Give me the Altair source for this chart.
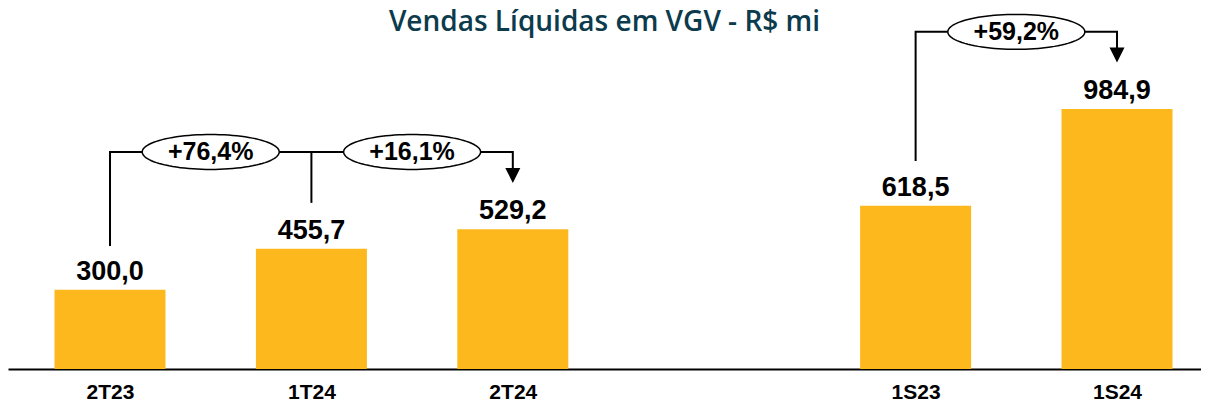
import altair as alt
import pandas as pd
import numpy as np

# ---- data ----
categories = ["2T23", "1T24", "2T24", "1S23", "1S24"]
slots = [0, 1, 2, 4, 5]
values = [300.0, 455.7, 529.2, 618.5, 984.9]
value_labels = ["300,0", "455,7", "529,2", "618,5", "984,9"]
axis_labels = ["2T23", "1T24", "2T24", "", "1S23", "1S24"]

growth_labels = ["+76,4%", "+16,1%", "+59,2%"]
growth_x = [0.5, 1.5, 4.5]
growth_y = [822, 822, 1277]

bracket_id = ["q", "q", "q", "q", "v", "v", "s", "s", "s", "s"]
bracket_x = [0, 0, 2, 2, 1, 1, 4, 4, 5, 5]
bracket_y = [470, 822, 822, 754, 822, 633, 792, 1277, 1277, 1216]
bracket_order = [0, 1, 2, 3, 0, 1, 0, 1, 2, 3]

arrow_x = [2, 5]
arrow_y = [733, 1189]

title_text = ["Vendas Líquidas em VGV - R$ mi"]

bars = pd.DataFrame({"cat": categories, "slot": slots, "value": values, "label": value_labels})
growth = pd.DataFrame({"x": growth_x, "y": growth_y, "label": growth_labels})
brackets = pd.DataFrame({"id": bracket_id, "x": bracket_x, "y": bracket_y, "o": bracket_order})
arrows = pd.DataFrame({"x": arrow_x, "y": arrow_y})
titles = pd.DataFrame({"t": title_text})

W, H = 1193, 339
x_scale = alt.Scale(domain=[-0.5065, 5.417], nice=False, zero=False, padding=0)
y_scale = alt.Scale(domain=[0, 1284], nice=False, zero=True, padding=0)

label_expr = "[" + ",".join("'" + s + "'" for s in axis_labels) + "][datum.value]"

X = alt.X("slot:Q", scale=x_scale, title=None,
          axis=alt.Axis(values=slots, labelExpr=label_expr, ticks=False, grid=False,
                        domainColor="#000000", domainWidth=2, labelPadding=12,
                        labelFont="Liberation Sans", labelFontWeight="bold",
                        labelFontSize=21, labelColor="#000000"))
Y = alt.Y("value:Q", scale=y_scale, axis=None)

bar_layer = alt.Chart(bars).mark_bar(size=111, color="#FDB81E").encode(x=X, y=Y)
val_text = alt.Chart(bars).mark_text(
    baseline="alphabetic", dy=-10, font="Liberation Sans", fontWeight="bold",
    fontSize=27, color="#000000"
).encode(x=alt.X("slot:Q", scale=x_scale), y=alt.Y("value:Q", scale=y_scale), text="label:N")

lines = alt.Chart(brackets).mark_line(color="#000000", strokeWidth=2, strokeCap="square").encode(
    x=alt.X("x:Q", scale=x_scale), y=alt.Y("y:Q", scale=y_scale), detail="id:N", order="o:Q")

arrow_layer = alt.Chart(arrows).mark_point(
    shape="M-1,-1L1,-1L0,1Z", filled=True, color="#000000", size=225, opacity=1
).encode(x=alt.X("x:Q", scale=x_scale), y=alt.Y("y:Q", scale=y_scale))

t = np.linspace(0, 2 * np.pi, 97)[:-1]
ell_path = "M" + "L".join(f"{np.cos(a):.4f},{0.255 * np.sin(a):.4f}" for a in t) + "Z"
ellipses = alt.Chart(growth).mark_point(
    shape=ell_path, filled=False, fill="#FFFFFF", fillOpacity=1, stroke="#000000",
    strokeWidth=1.5, size=137 * 137, opacity=1
).encode(x=alt.X("x:Q", scale=x_scale), y=alt.Y("y:Q", scale=y_scale))

g_text = alt.Chart(growth).mark_text(
    baseline="middle", font="Liberation Sans", fontWeight="bold", fontSize=25, color="#000000"
).encode(x=alt.X("x:Q", scale=x_scale), y=alt.Y("y:Q", scale=y_scale), text="label:N")

title_layer = alt.Chart(titles).mark_text(
    baseline="top", align="center", font="Open Sans", fontWeight=600, fontSize=28,
    color="#0B3B4C"
).encode(x=alt.value(W / 2), y=alt.value(-21), text="t:N")

chart = alt.layer(bar_layer, val_text, lines, arrow_layer, ellipses, g_text, title_layer).properties(
    width=W, height=H,
    padding={"left": 0, "top": 22, "right": 0, "bottom": 35},
    autosize=alt.AutoSizeParams(type="none"),
).configure_view(stroke=None)

chart.save("out.html", embed_options={"renderer": "svg", "actions": False})
